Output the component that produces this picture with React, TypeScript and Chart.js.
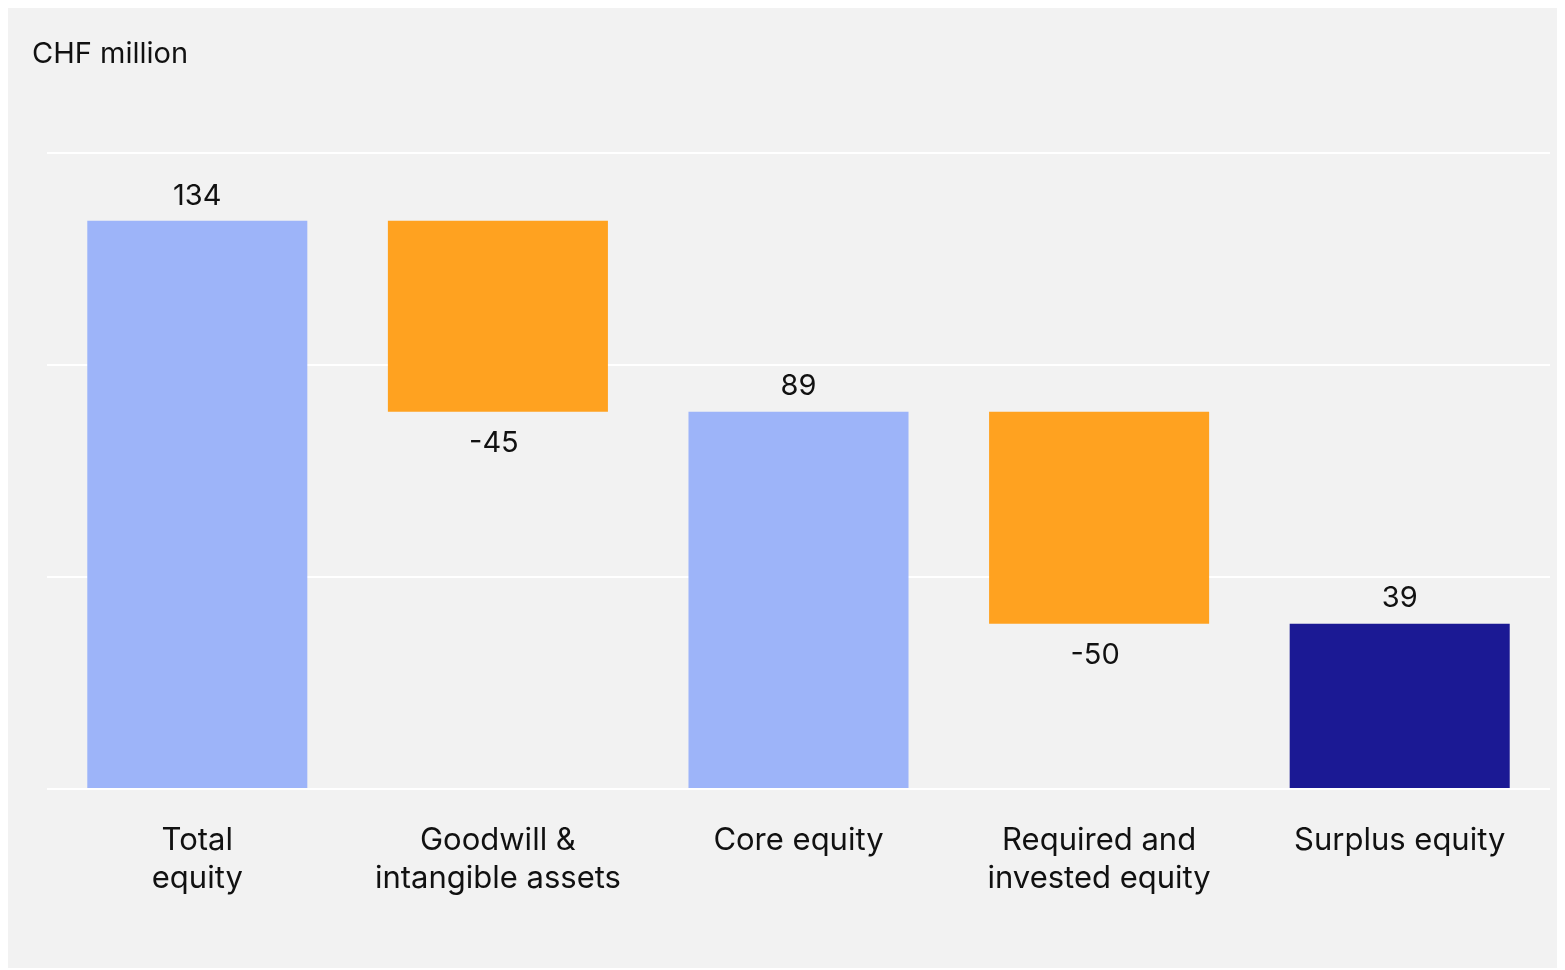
import React, { useEffect, useRef } from "react";
import { Chart, registerables } from "chart.js";

Chart.register(...registerables);

const title = "CHF million";
const categories: string[][] = [
  ["Total", "equity"],
  ["Goodwill &", "intangible assets"],
  ["Core equity"],
  ["Required and", "invested equity"],
  ["Surplus equity"],
];
const values = [134, -45, 89, -50, 39];
const kinds = ["total", "change", "total", "change", "result"];
const yTicks = [0, 50, 100, 150];

const colorTotal = "#9DB4F9";
const colorChange = "#FFA220";
const colorResult = "#1B1994";
const bg = "#F2F2F2";
const textColor = "#111111";
const fontFamily = "Inter, 'Noto Sans', sans-serif";

export default function App() {
  const ref = useRef<HTMLCanvasElement | null>(null);
  useEffect(() => {
    document.documentElement.style.overflow = "hidden";
    if (!ref.current) return;
    let running = 0;
    const floating: [number, number][] = values.map((v, i) => {
      if (kinds[i] === "change") {
        const start = running;
        running = running + v;
        return [Math.min(start, running), Math.max(start, running)];
      }
      running = v;
      return [0, v];
    });
    const colors = kinds.map((k) =>
      k === "total" ? colorTotal : k === "change" ? colorChange : colorResult
    );

    const labelPlugin = {
      id: "labels",
      afterDatasetsDraw(chart: any) {
        const ctx = chart.ctx;
        const meta = chart.getDatasetMeta(0);
        ctx.save();
        ctx.font = `29px ${fontFamily}`;
        ctx.fillStyle = textColor;
        ctx.textAlign = "center";
        ctx.textBaseline = "middle";
        meta.data.forEach((el: any, i: number) => {
          const v = values[i];
          const p = el.getProps(["x", "y", "base"], true);
          const top = Math.min(p.y, p.base);
          const bottom = Math.max(p.y, p.base);
          const text = String(v);
          if (v >= 0) ctx.fillText(text, p.x, top - 25);
          else ctx.fillText(text, p.x - 4, bottom + 32);
        });
        ctx.textAlign = "left";
        ctx.font = `29px ${fontFamily}`;
        ctx.fillText(title, 24, 46);
        ctx.restore();
      },
    };

    const chart = new Chart(ref.current, {
      type: "bar",
      data: {
        labels: categories,
        datasets: [
          {
            data: floating as any,
            backgroundColor: colors,
            borderWidth: 0,
            barPercentage: 0.732,
            categoryPercentage: 1,
          },
        ],
      },
      options: {
        animation: false,
        responsive: true,
        maintainAspectRatio: false,
        layout: { padding: { top: 145, left: 39, right: 15, bottom: 0 } },
        plugins: {
          legend: { display: false },
          tooltip: { enabled: false },
          title: { display: false },
        },
        scales: {
          x: {
            offset: true,
            grid: { display: false, drawTicks: false },
            border: { display: false },
            ticks: {
              color: textColor,
              font: { family: fontFamily, size: 31, lineHeight: 1.22 },
              padding: 33,
              maxRotation: 0,
              autoSkip: false,
            },
            afterFit: (s: any) => {
              s.height = 179;
            },
          },
          y: {
            min: yTicks[0],
            max: yTicks[yTicks.length - 1],
            afterBuildTicks: (s: any) => {
              s.ticks = yTicks.map((v) => ({ value: v }));
            },
            grid: { color: "#FFFFFF", lineWidth: 2, drawTicks: false },
            border: { display: false },
            ticks: { display: false },
          },
        },
      },
      plugins: [labelPlugin],
    });
    return () => chart.destroy();
  }, []);

  return (
    <div style={{ width: 1557, height: 960, background: bg, position: "relative" }}>
      <canvas ref={ref} />
    </div>
  );
}
